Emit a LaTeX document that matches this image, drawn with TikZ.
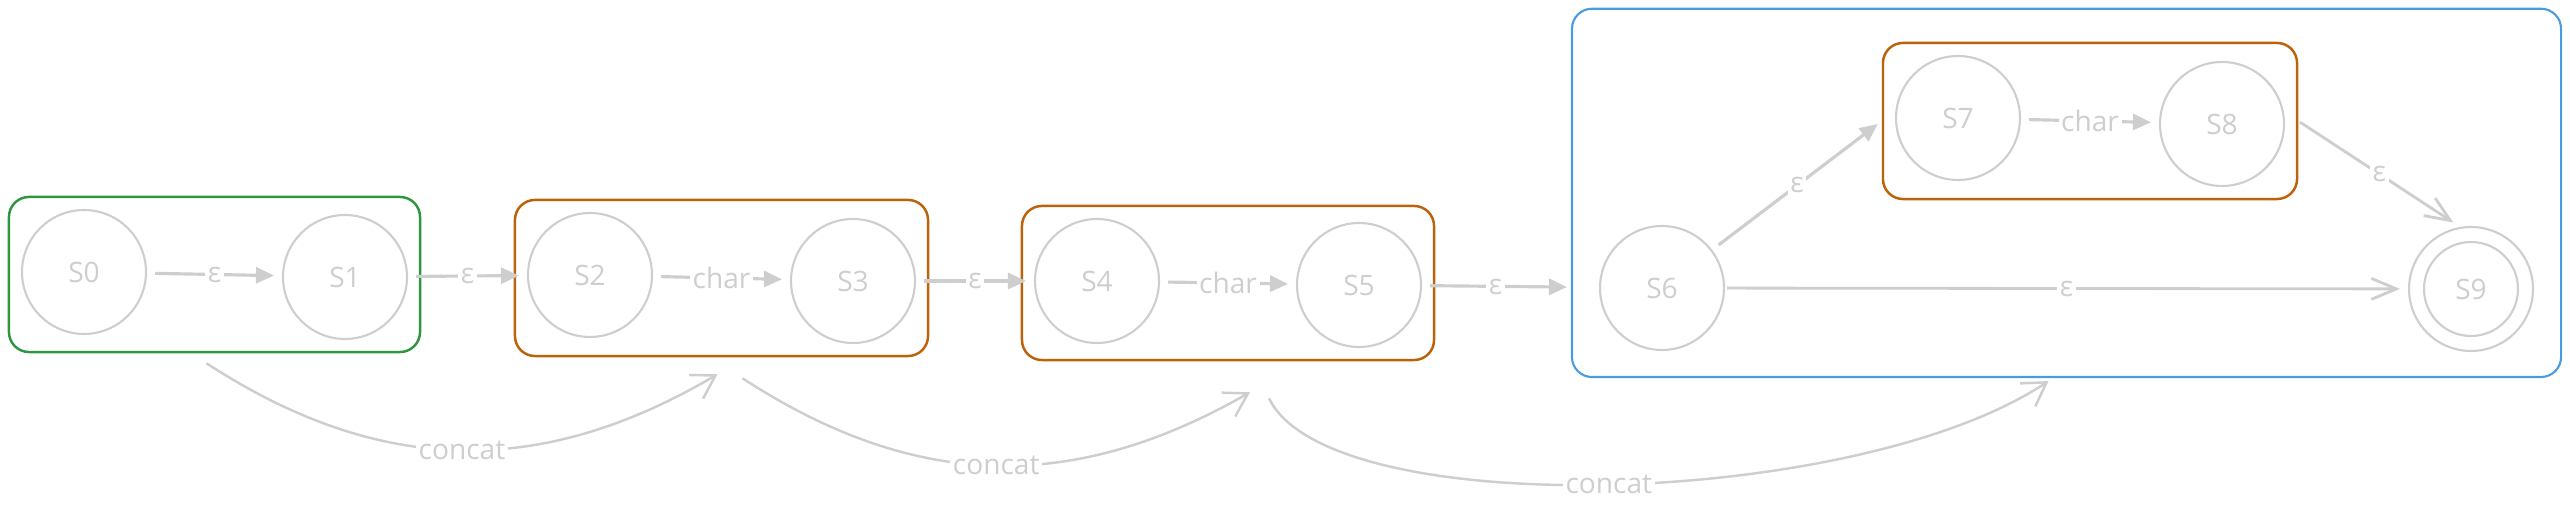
\documentclass[tikz,border=0pt]{standalone}
\usepackage{fontspec}
\setmainfont{Open Sans}
\usepackage{tikz}
\usepackage{xcolor}
\usetikzlibrary{arrows.meta}
\usetikzlibrary{fit}

\definecolor{stategray}{RGB}{206,206,206}
\definecolor{boxgreen}{RGB}{47,150,64}
\definecolor{boxorange}{RGB}{188,98,10}
\definecolor{boxblue}{RGB}{74,156,226}

\begin{document}
\begin{tikzpicture}[x=0.02cm, y=0.02cm,
    state/.style={circle, draw=stategray, line width=1.2pt, minimum size=2.48cm, inner sep=0pt, text=stategray, font=\fontsize{16}{19}\selectfont},
    group/.style={draw, line width=1.4pt, rounded corners=0.4cm, inner sep=0.24cm},
    eps/.style={draw=stategray, line width=1.8pt, -{Triangle[length=0.36cm, width=0.32cm]}, shorten >=0.16cm, shorten <=0.16cm},
    epsopen/.style={draw=stategray, line width=1.6pt, -{Straight Barb[length=0.5cm, width=0.42cm]}, shorten >=0.16cm, shorten <=0.04cm},
    concat/.style={draw=stategray, line width=1.4pt, -{Straight Barb[length=0.45cm, width=0.55cm]}},
    lbl/.style={fill=white, inner sep=1.5pt, text=stategray, font=\fontsize{16}{19}\selectfont}]
    % Fix the page to the reference size
    \useasboundingbox (0, 0) rectangle (2570, 506);

    % States of the automaton
    \node[state] (s0) at (84, 234) {S0};
    \node[state] (s1) at (345, 229) {S1};
    \node[state] (s2) at (590, 231) {S2};
    \node[state] (s3) at (853, 225) {S3};
    \node[state] (s4) at (1097, 225) {S4};
    \node[state] (s5) at (1359, 221) {S5};
    \node[state] (s6) at (1662, 218) {S6};
    \node[state] (s7) at (1958, 388) {S7};
    \node[state] (s8) at (2222, 382) {S8};
    \node[state] (s9) at (2471, 217) {S9};
    \draw[stategray, line width=1.2pt] (s9.center) circle[radius=0.94cm];% Accepting state

    % Fragment boxes
    \node[group, draw=boxgreen, fit=(s0)(s1)] (box01) {};
    \node[group, draw=boxorange, fit=(s2)(s3)] (box23) {};
    \node[group, draw=boxorange, fit=(s4)(s5)] (box45) {};
    \node[group, draw=boxorange, fit=(s7)(s8)] (box78) {};
    \node[group, draw=boxblue, line width=1.2pt, inner xsep=0.54cm, inner ysep=0.58cm, yshift=0.08cm, fit=(s6)(s9)(box78)] (box69) {};

    % Transitions along the chain
    \draw[eps] (s0) -- node[lbl] {ε} (s1);
    \draw[eps] (s1) -- node[lbl] {ε} (s2);
    \draw[eps] (s2) -- node[lbl] {char} (s3);
    \draw[eps] (s3) -- node[lbl] {ε} (s4);
    \draw[eps] (s4) -- node[lbl] {char} (s5);
    \draw[eps, shorten >=0.64cm] (s5) -- node[lbl, xshift=-0.3cm] {ε} (s6);
    \draw[eps] (s7) -- node[lbl] {char} (s8);

    % Branches inside the blue box
    \draw[eps, shorten >=0.1cm] (s6) -- node[lbl] {ε} (box78.west);
    \draw[epsopen] (box78.east) -- node[lbl] {ε} (s9.100);
    \draw[epsopen] (s6) -- node[lbl] {ε} (s9);

    % Concatenation arrows below the boxes
    \draw[concat] ([shift={(-8,-10)}]box01.south) .. controls +(175,-114) and +(-175,-103) .. node[lbl] {concat} ([shift={(-4,-17)}]box23.south);
    \draw[concat] ([shift={(21,-21)}]box23.south) .. controls +(175,-114) and +(-175,-100) .. node[lbl] {concat} ([shift={(22,-31)}]box45.south);
    \draw[concat] ([shift={(41,-37)}]box45.south) .. controls +(60,-125) and +(-193,-128) .. node[lbl] {concat} ([shift={(-18,-3)}]box69.south);
\end{tikzpicture}
\end{document}
